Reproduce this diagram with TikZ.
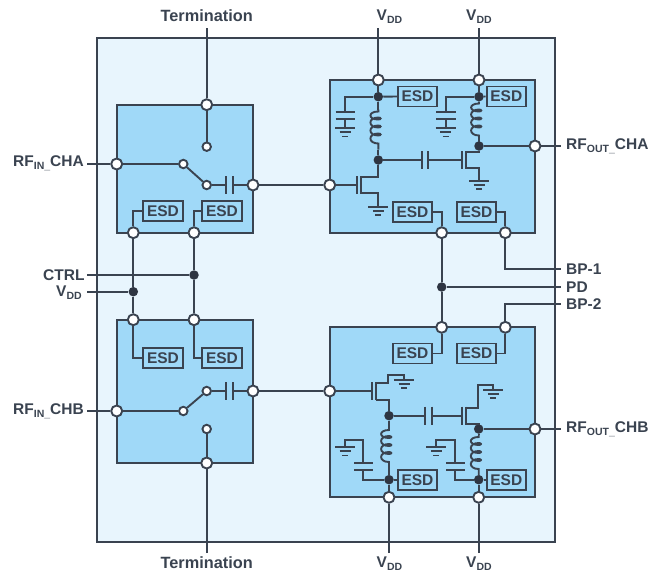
\documentclass[tikz,border=0pt]{standalone}
\usepackage{fontspec}
\setmainfont{Liberation Sans}
\definecolor{ink}{HTML}{3A4350}
\definecolor{dotink}{HTML}{2E3542}
\definecolor{outerfill}{HTML}{E8F5FD}
\definecolor{blockfill}{HTML}{A0D9F8}
\newcommand{\sbs}[1]{\raisebox{-0.4ex}{\fontsize{10.5}{10.5}\selectfont #1}}
\begin{document}
\begin{tikzpicture}[x=1pt,y=-1pt,
  wire/.style={draw=ink,line width=1.9pt},
  frame/.style={draw=ink,line width=2pt},
  blockbox/.style={frame,fill=blockfill},
  pin/.style={circle,draw=ink,fill=white,line width=1.9pt,minimum size=11pt,inner sep=0pt},
  smallpin/.style={circle,draw=ink,fill=white,line width=1.9pt,minimum size=8.5pt,inner sep=0pt},
  junction/.style={circle,fill=dotink,minimum size=9.5pt,inner sep=0pt},
  esd/.style={draw=ink,fill=blockfill,line width=1.9pt,minimum width=39.5pt,minimum height=20pt,inner sep=0pt,text=ink,font=\fontsize{15.5}{16}\selectfont\bfseries},
  lab/.style={text=ink,inner sep=0pt,font=\fontsize{15.5}{17}\selectfont\bfseries},
  coil/.pic={\draw[wire] (0,0) -- (0,2)
     .. controls (-10.5,2) and (-10.5,10) .. (0,10) .. controls (3,10) and (3,8) .. (0,8)
     .. controls (-10.5,8) and (-10.5,18) .. (0,18) .. controls (3,18) and (3,16) .. (0,16)
     .. controls (-10.5,16) and (-10.5,26) .. (0,26) .. controls (3,26) and (3,24) .. (0,24)
     .. controls (-10.5,24) and (-10.5,34) .. (0,34) -- (0,40);},
  gnd/.pic={\draw[wire] (-10,0) -- (10,0) (-5.5,4) -- (5.5,4) (-3,8.2) -- (3,8.2);}
]
\useasboundingbox (0,0) rectangle (659,574);
\path[frame,fill=outerfill] (97,38) rectangle (555,542);
\draw[blockbox] (116.7,104.7) rectangle (253,232.7);
\draw[blockbox] (116.7,319.7) rectangle (253,463);
\draw[blockbox] (329.7,80) rectangle (535,232.7);
\draw[blockbox] (329.7,327.3) rectangle (535,497.3);

% ---------- named points
\coordinate (tTa) at (206.7,28); \coordinate (tTb) at (206.7,553);
\coordinate (vA) at (378.3,28); \coordinate (vB) at (479,28);
\coordinate (vC) at (389,553); \coordinate (vD) at (478.7,553);
\coordinate (inA) at (87,164); \coordinate (inB) at (87,411);
\coordinate (outA) at (561,146); \coordinate (outB) at (561,429);
\coordinate (ctrlE) at (87,275); \coordinate (vddE) at (87,291.7);
\coordinate (pdE) at (561,287); \coordinate (bp1E) at (561,269); \coordinate (bp2E) at (561,304);
\coordinate (bp1C) at (505.3,269); \coordinate (bp2C) at (505.3,304);

\node[pin] (a1) at (206.7,104.7) {};
\node[pin] (a2) at (116.7,164) {};
\node[pin] (a3) at (253,185) {};
\node[pin] (a4) at (133.3,232.7) {};
\node[pin] (a5) at (194,232.7) {};
\node[pin] (b1) at (133.3,319.7) {};
\node[pin] (b2) at (194,319.7) {};
\node[pin] (b3) at (253,391) {};
\node[pin] (b4) at (116.7,411) {};
\node[pin] (b5) at (206.7,463) {};
\node[pin] (c1) at (378.3,80) {};
\node[pin] (c2) at (479,80) {};
\node[pin] (c3) at (535,146) {};
\node[pin] (c4) at (329.7,185) {};
\node[pin] (c5) at (441.7,232.7) {};
\node[pin] (c6) at (505.3,232.7) {};
\node[pin] (d1) at (441.7,327.3) {};
\node[pin] (d2) at (505.3,327.3) {};
\node[pin] (d3) at (329.7,391) {};
\node[pin] (d4) at (535,429) {};
\node[pin] (d5) at (389,497.3) {};
\node[pin] (d6) at (478.7,497.3) {};

\node[smallpin] (s1) at (206.7,146.7) {};
\node[smallpin] (s2) at (183.3,164) {};
\node[smallpin] (s3) at (206.7,185) {};
\node[smallpin] (s4) at (206.7,391) {};
\node[smallpin] (s5) at (183.3,411) {};
\node[smallpin] (s6) at (206.7,429) {};

\node[junction] (j1) at (194,275) {};
\node[junction] (j2) at (133.3,291.7) {};
\node[junction] (j3) at (441.7,287) {};
\node[junction] (j4) at (378.3,96.7) {};
\node[junction] (j5) at (479,96.7) {};
\node[junction] (j6) at (378.3,160) {};
\node[junction] (j7) at (479,146) {};
\node[junction] (j8) at (389,415.7) {};
\node[junction] (j9) at (478.7,429) {};
\node[junction] (j10) at (389,479.7) {};
\node[junction] (j11) at (478.7,479.7) {};

\node[esd] (e1) at (163,211.3) {ESD};
\node[esd] (e2) at (222,211.3) {ESD};
\node[esd] (e3) at (163,358.3) {ESD};
\node[esd] (e4) at (222,358.3) {ESD};
\node[esd] (e5) at (417.5,96.5) {ESD};
\node[esd] (e6) at (506.3,96.5) {ESD};
\node[esd] (e7) at (412.5,211.7) {ESD};
\node[esd] (e8) at (476.5,211.7) {ESD};
\node[esd] (e9) at (412.5,353.5) {ESD};
\node[esd] (e10) at (476.5,353.5) {ESD};
\node[esd] (e11) at (417.5,479.7) {ESD};
\node[esd] (e12) at (506.3,479.7) {ESD};

\draw[wire] (tTa) -- (a1); \draw[wire] (tTb) -- (b5);
\draw[wire] (vA) -- (c1); \draw[wire] (vB) -- (c2);
\draw[wire] (vC) -- (d5); \draw[wire] (vD) -- (d6);
\draw[wire] (inA) -- (a2); \draw[wire] (inB) -- (b4);
\draw[wire] (c3) -- (outA); \draw[wire] (d4) -- (outB);
\draw[wire] (a3) -- (c4); \draw[wire] (b3) -- (d3);
\draw[wire] (a4) -- (j2) -- (b1);
\draw[wire] (a5) -- (j1) -- (b2);
\draw[wire] (ctrlE) -- (j1); \draw[wire] (vddE) -- (j2);
\draw[wire] (c5) -- (j3) -- (d1); \draw[wire] (j3) -- (pdE);
\draw[wire] (c6) -- (bp1C) -- (bp1E);
\draw[wire] (d2) -- (bp2C) -- (bp2E);

% ---------- RF switch A
\draw[wire] (a1) -- (s1);
\draw[wire] (a2) -- (s2);
\draw[wire] (s2) -- (s3);
\draw[wire] (s3) -- (226,185) (226,176) -- (226,194) (232.7,176) -- (232.7,194);
\draw[wire] (232.7,185) -- (a3);
\draw[wire] (e1.west) -| (a4);
\draw[wire] (e2.west) -| (a5);
% ---------- RF switch B
\draw[wire] (b5) -- (s6);
\draw[wire] (b4) -- (s5);
\draw[wire] (s5) -- (s4);
\draw[wire] (s4) -- (226,391) (226,382) -- (226,400) (232.7,382) -- (232.7,400);
\draw[wire] (232.7,391) -- (b3);
\draw[wire] (e3.west) -| (b1);
\draw[wire] (e4.west) -| (b2);

% ---------- LNA A
\draw[wire] (c1) -- (j4); \draw[wire] (c2) -- (j5);
\draw[wire] (j4) -- (e5.west);
\draw[wire] (j5) -- (e6.west);
\draw[wire] (j4) -| (345,112.3);
\draw[wire] (335.7,112.3) -- (355,112.3) (335.7,119) -- (355,119) (345,119) -- (345,128.3);
\pic at (345,128.3) {gnd};
\draw[wire] (j5) -| (445.7,112.3);
\draw[wire] (436.3,112.3) -- (455.7,112.3) (436.3,119) -- (455.7,119) (445.7,119) -- (445.7,128.3);
\pic at (445.7,128.3) {gnd};
\pic at (378.3,109.5) {coil};
\draw[wire] (j4) -- (378.3,109.5) (378.3,149.5) -- (j6);
\pic at (479,101.5) {coil};
\draw[wire] (j5) -- (479,101.5) (479,141.5) -- (j7);
\draw[wire] (j6) -- (421.7,160) (421.7,151) -- (421.7,169.3) (428.3,151) -- (428.3,169.3);
\draw[wire] (428.3,160) -- (461.7,160) (461.7,151) -- (461.7,169.3);
\draw[wire] (465.7,151) -- (465.7,169.3);
\draw[wire] (465.7,151.7) -- (479,151.7) -- (j7);
\draw[wire] (465.7,168.3) -- (479,168.3) -- (479,181);
\pic at (479,181) {gnd};
\draw[wire] (c3) -- (j7);
\draw[wire] (c4) -- (357.3,185) (357.3,176) -- (357.3,194) (361.3,176) -- (361.3,194);
\draw[wire] (361.3,176.7) -- (378.3,176.7) -- (j6);
\draw[wire] (361.3,193.3) -- (378.3,193.3) -- (378.3,206.7);
\pic at (378.3,206.7) {gnd};
\draw[wire] (e7.east) -| (c5);
\draw[wire] (e8.east) -| (c6);

% ---------- LNA B
\draw[wire] (e9.east) -| (d1);
\draw[wire] (e10.east) -| (d2);
\draw[wire] (d3) -- (372.3,391) (372.3,382) -- (372.3,400.3) (376.3,382) -- (376.3,400.3);
\draw[wire] (376.3,383) -- (388.3,383) -- (388.3,375) -- (404,375) -- (404,380);
\pic at (404,380) {gnd};
\draw[wire] (376.3,400) -- (389,400) -- (j8);
\draw[wire] (j8) -- (425,415.7) (425,406.7) -- (425,425) (431.7,406.7) -- (431.7,425);
\draw[wire] (431.7,415.7) -- (461.7,415.7) (461.7,406.7) -- (461.7,425) (465.7,406.7) -- (465.7,425);
\draw[wire] (465.7,407.7) -- (477.7,407.7) -- (477.7,385.3) -- (493.3,385.3) -- (493.3,390);
\pic at (493.3,390) {gnd};
\draw[wire] (465.7,424) -- (478.7,424) -- (j9);
\draw[wire] (j9) -- (d4);
\pic at (389,428) {coil};
\draw[wire] (j8) -- (389,428) (389,468) -- (j10);
\pic at (478.7,435) {coil};
\draw[wire] (j9) -- (478.7,435) (478.7,475) -- (j11);
\draw[wire] (j10) -- (e11.west); \draw[wire] (j11) -- (e12.west);
\draw[wire] (j10) -- (d5); \draw[wire] (j11) -- (d6);
\draw[wire] (j10) -| (363.3,470);
\draw[wire] (354.3,470) -- (373.3,470) (354.3,463.3) -- (373.3,463.3);
\draw[wire] (363.3,463.3) -- (363.3,440) -- (345,440) -- (345,447.3);
\pic at (345,447.3) {gnd};
\draw[wire] (j11) -| (455,470);
\draw[wire] (446,470) -- (465,470) (446,463.3) -- (465,463.3);
\draw[wire] (455,463.3) -- (455,440) -- (436.3,440) -- (436.3,447.3);
\pic at (436.3,447.3) {gnd};

% ---------- labels
\node[lab,font=\fontsize{16.3}{17}\selectfont\bfseries] (lT1) at (206.7,15.5) {Termination};
\node[lab,font=\fontsize{16.3}{17}\selectfont\bfseries] (lT2) at (206.7,563) {Termination};
\node[lab,anchor=west] (lV1) at (376.5,16.5) {V\sbs{DD}};
\node[lab,anchor=west] (lV2) at (466,16.5) {V\sbs{DD}};
\node[lab,anchor=west] (lV3) at (376.5,563.5) {V\sbs{DD}};
\node[lab,anchor=west] (lV4) at (466,563.5) {V\sbs{DD}};
\node[lab,anchor=west] (lI1) at (13,163.5) {RF\sbs{IN\_}CHA};
\node[lab,anchor=west] (lI2) at (13,411) {RF\sbs{IN\_}CHB};
\node[lab,anchor=west] (lO1) at (566,146.5) {RF\sbs{OUT\_}CHA};
\node[lab,anchor=west] (lO2) at (566,429.5) {RF\sbs{OUT\_}CHB};
\node[lab,anchor=west] (lC) at (43,275) {CTRL};
\node[lab,anchor=west] (lV) at (56,293) {V\sbs{DD}};
\node[lab,anchor=west] (lB1) at (566,269) {BP-1};
\node[lab,anchor=west] (lP) at (566,287) {PD};
\node[lab,anchor=west] (lB2) at (566,304) {BP-2};
\end{tikzpicture}
\end{document}
